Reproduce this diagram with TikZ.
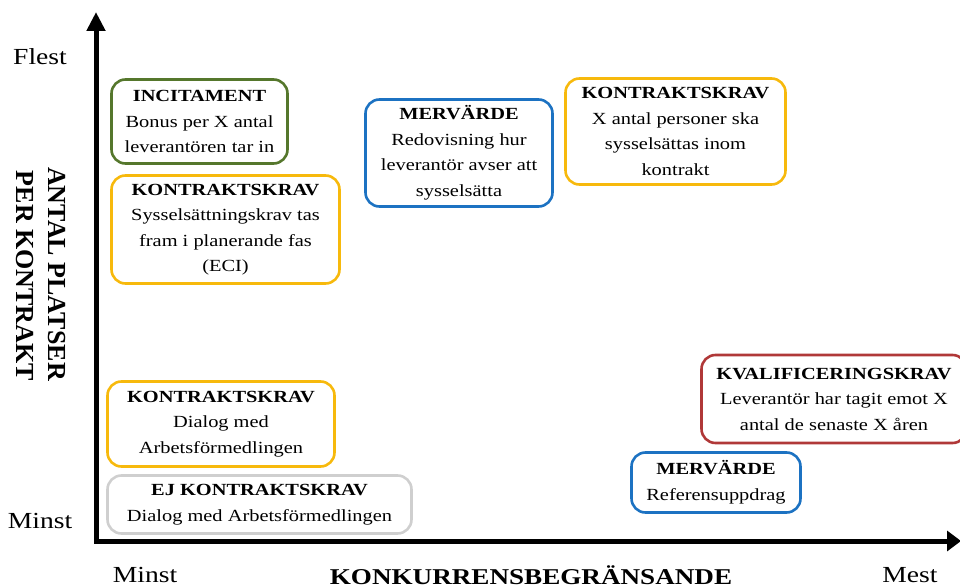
\documentclass[tikz,border=0pt]{standalone}
\usepackage{fontspec}
\setmainfont[FakeStretch=1.2]{Liberation Serif}
\newfontfamily\labelfont{Liberation Serif}
\usetikzlibrary{arrows.meta}
\definecolor{cgreen}{HTML}{55772C}
\definecolor{cyellow}{HTML}{F7B90C}
\definecolor{cblue}{HTML}{1C72C2}
\definecolor{cred}{HTML}{B03838}
\definecolor{cgray}{HTML}{CFCFCF}
\tikzset{
  box/.style={draw, line width=2.6pt, rounded corners=14pt, align=center, inner sep=0pt,
    font=\fontsize{17}{25.5}\selectfont},
  axislabel/.style={font=\fontsize{23}{23}\selectfont, inner sep=0pt},
  ylabel/.style={font=\labelfont\bfseries\fontsize{26}{26}\selectfont, rotate=-90, inner sep=0pt},
  axisline/.style={line width=5pt, line join=miter,
    {Triangle[width=18pt,length=19pt]}-{Triangle[width=20pt,length=14pt]}}
}
\begin{document}
\begin{tikzpicture}[x=1pt,y=-1pt]
\useasboundingbox (0,0) rectangle (960,588);
\clip (0,0) rectangle (960,588);
% axes
\coordinate (ytop) at (96,12);
\coordinate (corner) at (96,541);
\coordinate (xend) at (961,541);
\draw[axisline] (ytop) -- (corner) -- (xend);
% axis labels
\node[axislabel] (flest) at (40,57) {Flest};
\node[axislabel] (minsty) at (40,521) {Minst};
\node[axislabel] (minstx) at (145,575) {Minst};
\node[axislabel] (mest) at (910,575) {Mest};
\node[axislabel, font=\bfseries\fontsize{22.6}{22.6}\selectfont] (xtitle) at (531,575) {KONKURRENSBEGRÄNSANDE};
\node[ylabel] (yt1) at (57,274) {ANTAL PLATSER};
\node[ylabel] (yt2) at (25,276) {PER KONTRAKT};
% boxes
\node[box, draw=cgreen, minimum width=176pt, minimum height=84pt] (inc) at (199.5,121.5)
  {\textbf{INCITAMENT}\\Bonus per X antal\\leverantören tar in};
\node[box, draw=cyellow, minimum width=228pt, minimum height=108pt] (kk1) at (225.5,229.5)
  {\textbf{KONTRAKTSKRAV}\\Sysselsättningskrav tas\\fram i planerande fas\\(ECI)};
\node[box, draw=cyellow, minimum width=227pt, minimum height=85pt] (kk2) at (221,424)
  {\textbf{KONTRAKTSKRAV}\\Dialog med\\Arbetsförmedlingen};
\node[box, draw=cgray, minimum width=304pt, minimum height=58pt] (ej) at (259.5,504.5)
  {\textbf{EJ KONTRAKTSKRAV}\\Dialog med Arbetsförmedlingen};
\node[box, draw=cblue, minimum width=187pt, minimum height=107pt] (mv1) at (459,153)
  {\textbf{MERVÄRDE}\\Redovisning hur\\leverantör avser att\\sysselsätta};
\node[box, draw=cyellow, minimum width=220pt, minimum height=106pt] (kk3) at (675.5,131.5)
  {\textbf{KONTRAKTSKRAV}\\X antal personer ska\\sysselsättas inom\\kontrakt};
\node[box, draw=cred, minimum width=265pt, minimum height=88pt] (kval) at (834,399)
  {\textbf{KVALIFICERINGSKRAV}\\Leverantör har tagit emot X\\antal de senaste X åren};
\node[box, draw=cblue, minimum width=169pt, minimum height=60pt] (mv2) at (716,482.5)
  {\textbf{MERVÄRDE}\\Referensuppdrag};
\end{tikzpicture}
\end{document}
